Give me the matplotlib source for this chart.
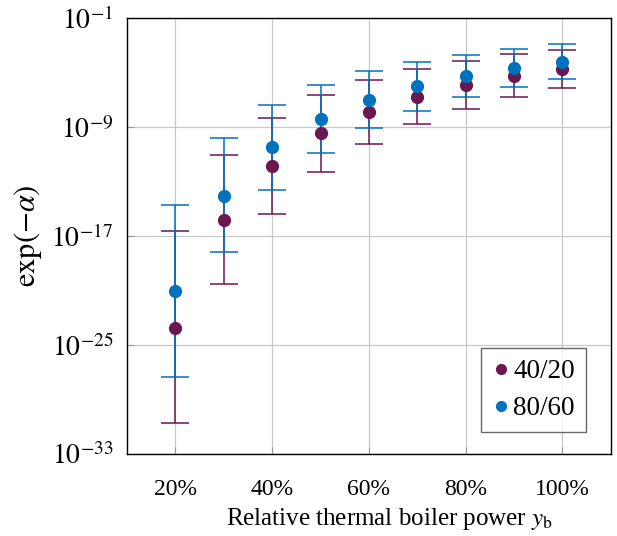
import matplotlib
matplotlib.use("Agg")
import matplotlib.pyplot as plt
import numpy as np
from matplotlib.lines import Line2D

# ============================================
# フォント設定 (Times風)
# ============================================
plt.rcParams["font.family"] = ["Liberation Serif", "DejaVu Serif"]
plt.rcParams["mathtext.fontset"] = "stix"

# ============================================
# データ (log10 の値)
# ============================================
power = [20, 30, 40, 50, 60, 70, 80, 90, 100]
tick_pos = [20, 40, 60, 80, 100]
tick_labels = ["20%", "40%", "60%", "80%", "100%"]

# 40/20
log_mean_4020 = [-23.73, -15.80, -11.84, -9.46, -7.85, -6.75, -5.89, -5.21, -4.72]
log_upper_4020 = [-16.63, -11.06, -8.32, -6.63, -5.53, -4.72, -4.13, -3.64, -3.30]
log_lower_4020 = [-30.70, -20.55, -15.39, -12.30, -10.25, -8.76, -7.66, -6.80, -6.11]

# 80/60
log_mean_8060 = [-21.00, -14.02, -10.47, -8.39, -6.97, -5.99, -5.26, -4.67, -4.20]
log_upper_8060 = [-14.72, -9.78, -7.36, -5.89, -4.89, -4.20, -3.67, -3.28, -2.91]
log_lower_8060 = [-27.32, -18.20, -13.65, -10.91, -9.07, -7.78, -6.82, -6.06, -5.46]

COLOR_4020 = "#6b1850"
COLOR_8060 = "#0072bd"


def to_err(mean, lower, upper):
    m = 10.0 ** np.array(mean)
    lo = 10.0 ** np.array(lower)
    hi = 10.0 ** np.array(upper)
    return m, np.vstack([m - lo, hi - m])


# ============================================
# 描画
# ============================================
fig = plt.figure(figsize=(6.17, 5.36), dpi=100)
ax = fig.add_axes([0.206, 0.153, 0.784, 0.813])

handles = []
for mean, lower, upper, color, label in [
    (log_mean_4020, log_lower_4020, log_upper_4020, COLOR_4020, "40/20"),
    (log_mean_8060, log_lower_8060, log_upper_8060, COLOR_8060, "80/60"),
]:
    m, err = to_err(mean, lower, upper)
    ax.errorbar(
        power,
        m,
        yerr=err,
        fmt="o",
        color=color,
        ecolor=color,
        markersize=8.5,
        elinewidth=1.1,
        capsize=10,
        capthick=1.1,
        zorder=3,
    )
    handles.append(
        Line2D([], [], linestyle="none", marker="o", color=color,
               markersize=7, label=label)
    )

ax.set_yscale("log")
ax.set_ylim(1e-33, 1e-1)
ax.set_xlim(10, 110)

ax.set_yticks([1e-33, 1e-25, 1e-17, 1e-9, 1e-1])
ax.set_yticklabels([r"$10^{-33}$", r"$10^{-25}$", r"$10^{-17}$", r"$10^{-9}$", r"$10^{-1}$"])
ax.minorticks_off()
ax.set_xticks(tick_pos)
ax.set_xticklabels(tick_labels)

ax.grid(True, color="#c8c8c8", linewidth=0.9)
ax.set_axisbelow(True)
ax.tick_params(direction="in", length=5, color="#999999")
ax.tick_params(axis="x", labelsize=17, pad=18)
ax.tick_params(axis="y", labelsize=20, pad=10)

for spine in ax.spines.values():
    spine.set_linewidth(1.0)

ax.set_xlabel(r"Relative thermal boiler power $y_{\mathrm{b}}$", fontsize=18)
ax.xaxis.set_label_coords(0.543, -0.12)
ax.set_ylabel(r"$\exp(-\alpha)$", fontsize=22)
ax.yaxis.set_label_coords(-0.172, 0.5)

leg = ax.legend(
    handles=handles,
    loc="lower right",
    fontsize=19.5,
    frameon=True,
    fancybox=False,
    edgecolor="#444444",
    handletextpad=0.1,
    handlelength=0.7,
    borderpad=0.4,
    borderaxespad=0.0,
    labelspacing=0.45,
    bbox_to_anchor=(0.948, 0.05),
)
leg.get_frame().set_linewidth(1.0)

fig.savefig("out.png", dpi=100)
